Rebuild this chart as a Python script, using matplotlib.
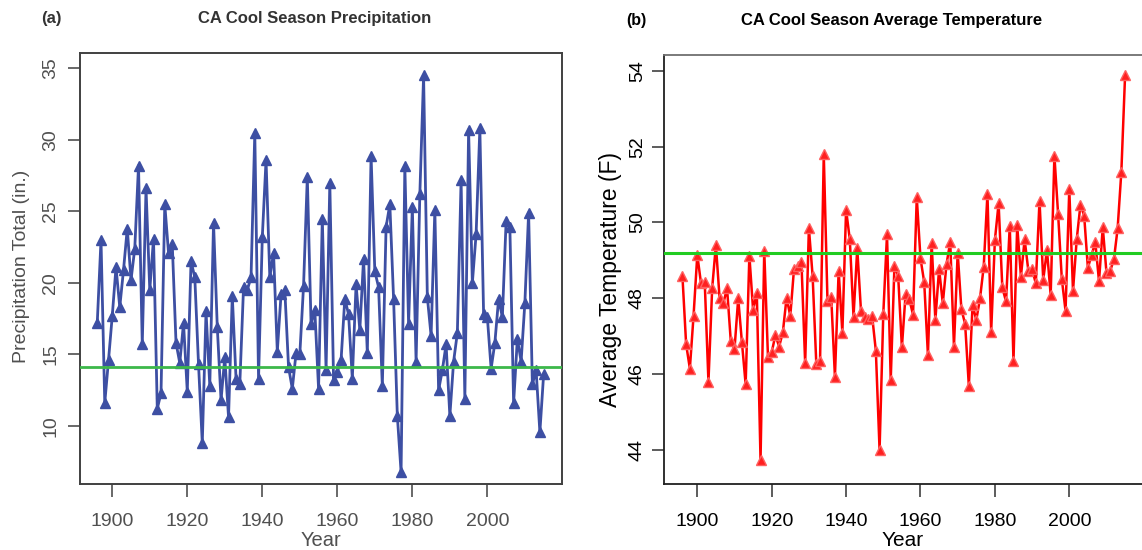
import matplotlib
matplotlib.use("Agg")
import matplotlib.pyplot as plt
import numpy as np

plt.rcParams['font.family'] = ['Liberation Sans', 'DejaVu Sans']

years = list(range(1896, 2016))

precip = [17.2, 23.0, 11.6, 14.6, 17.7, 21.1, 18.3, 20.9, 23.8, 20.2,
          22.4, 28.2, 15.7, 26.6, 19.5, 23.1, 11.2, 12.3, 25.5, 22.1,
          22.7, 15.8, 14.4, 17.2, 12.4, 21.5, 20.4, 14.3, 8.8, 18.0,
          12.8, 24.2, 16.9, 11.8, 14.8, 10.6, 19.1, 13.3, 12.9, 19.7,
          19.5, 20.4, 30.5, 13.3, 23.2, 28.6, 20.4, 22.1, 15.2, 19.2,
          19.5, 14.1, 12.6, 15.1, 15.0, 19.8, 27.4, 17.1, 18.1, 12.6,
          24.5, 13.9, 27.0, 13.2, 13.8, 14.6, 18.9, 17.8, 13.3, 19.9,
          16.7, 21.7, 15.1, 28.9, 20.8, 19.7, 12.8, 23.9, 25.5, 18.9,
          10.7, 6.76, 28.2, 17.1, 25.3, 14.5, 26.2, 34.5, 19.0, 16.3,
          25.1, 12.5, 13.9, 15.7, 10.7, 14.5, 16.5, 27.2, 11.9, 30.7,
          20.0, 23.4, 30.8, 17.8, 17.6, 14.0, 15.8, 18.9, 17.6, 24.3,
          23.9, 11.6, 16.1, 14.5, 18.6, 24.9, 12.9, 13.9, 9.56, 13.6]

temp = [48.59, 46.78, 46.14, 47.54, 49.14, 48.39, 48.42, 45.79, 48.26, 49.40,
        47.99, 47.86, 48.26, 46.87, 46.65, 47.99, 46.83, 45.72, 49.12, 47.69,
        48.13, 43.72, 49.25, 46.45, 46.57, 47.02, 46.72, 47.10, 48.01, 47.53,
        48.77, 48.85, 48.94, 46.28, 49.85, 48.59, 46.25, 46.34, 51.80, 47.92,
        48.04, 45.92, 48.72, 47.09, 50.33, 49.55, 47.51, 49.31, 47.67, 47.49,
        47.44, 47.53, 46.61, 43.99, 47.58, 49.68, 45.84, 48.85, 48.59, 46.70,
        48.11, 47.97, 47.56, 50.66, 49.05, 48.42, 46.50, 49.45, 47.42, 48.77,
        47.86, 48.90, 49.48, 46.72, 49.20, 47.70, 47.32, 45.68, 47.82, 47.42,
        47.99, 48.83, 50.75, 47.11, 49.53, 50.50, 48.28, 47.91, 49.91, 46.34,
        49.92, 48.57, 49.55, 48.72, 48.76, 48.39, 50.57, 48.48, 49.27, 48.08,
        51.76, 50.21, 48.50, 47.66, 50.88, 48.19, 49.55, 50.46, 50.18, 48.80,
        49.14, 49.47, 48.44, 49.88, 48.67, 48.72, 49.02, 49.84, 51.34, 53.88]

precip_ref = 14.1
temp_ref = 49.2

xticks = [1900, 1920, 1940, 1960, 1980, 2000]
precip_yticks = [10, 15, 20, 25, 30, 35]
temp_yticks = [44, 46, 48, 50, 52, 54]

W, H = 1142, 550
fig = plt.figure(figsize=(W / 100, H / 100), dpi=100)


def px_axes(x0, y0, x1, y1):
    return fig.add_axes([x0 / W, 1 - y1 / H, (x1 - x0) / W, (y1 - y0) / H])


def ftext(x, y, s, **kw):
    fig.text(x / W, 1 - y / H, s, **kw)


# ---------------- Panel (a) ----------------
gray = '#505050'
ax1 = px_axes(80, 53, 562, 484)
ax1.plot(years, precip, color='#3d4fa3', lw=2.0, marker='^', ms=7.5,
         mfc='#3d4fa3', mec='#3d4fa3', zorder=3)
ax1.axhline(precip_ref, color='#3cb84a', lw=2.0, zorder=4)
ax1.set_xlim(1891.4, 2019.9)
ax1.set_ylim(5.94, 36.07)
ax1.set_xticks(xticks)
ax1.set_yticks(precip_yticks)
for sp in ax1.spines.values():
    sp.set_color('#404040')
    sp.set_linewidth(1.4)
ax1.tick_params(axis='both', direction='out', length=9, width=1.1,
                color='#404040', labelcolor=gray, labelsize=14, pad=6)
for lab in ax1.get_yticklabels():
    lab.set_rotation(90)
    lab.set_va('center')
ax1.tick_params(axis='x', pad=12)
ftext(22, 266, 'Precipitation Total (in.)', fontsize=14, color=gray,
      rotation=90, ha='center', va='center')
ftext(321, 540, 'Year', fontsize=14.5, color=gray, ha='center', va='center')

ftext(51, 19, '(a)', fontsize=12, fontweight='bold', color='#333333',
      ha='center', va='center')
ftext(315, 19, 'CA Cool Season Precipitation', fontsize=12,
      fontweight='bold', color='#333333', ha='center', va='center')

# ---------------- Panel (b) ----------------
ax2 = px_axes(664, 55, 1142, 484)
ax2.plot(years, temp, color='#ff0000', lw=1.8, marker='^', ms=6.5,
         mfc='#ff2020', mec='#ff6060', mew=1.0, zorder=3)
ax2.axhline(temp_ref, color='#22cc22', lw=2.2, zorder=4)
ax2.set_xlim(1891.05, 2019.55)
ax2.set_ylim(43.09, 54.42)
ax2.set_xticks(xticks)
ax2.set_yticks(temp_yticks)
for name, sp in ax2.spines.items():
    sp.set_color('#202020')
    sp.set_linewidth(1.3)
ax2.spines['right'].set_visible(False)
ax2.spines['top'].set_color('#707070')
ax2.tick_params(axis='both', direction='out', length=9, width=1.1,
                color='#303030', labelcolor='black', labelsize=14, pad=6)
for lab in ax2.get_yticklabels():
    lab.set_rotation(90)
    lab.set_va('center')
ax2.tick_params(axis='y', pad=4)
ax2.tick_params(axis='x', pad=12)
ftext(611, 280, 'Average Temperature (F)', fontsize=16.5, color='black',
      rotation=90, ha='center', va='center')
ftext(903, 540, 'Year', fontsize=15, color='black', ha='center', va='center')

ftext(636, 21, '(b)', fontsize=11.5, fontweight='bold', color='black',
      ha='center', va='center')
ftext(892, 21, 'CA Cool Season Average Temperature', fontsize=12,
      fontweight='bold', color='black', ha='center', va='center')

fig.savefig('out.png', dpi=100)
